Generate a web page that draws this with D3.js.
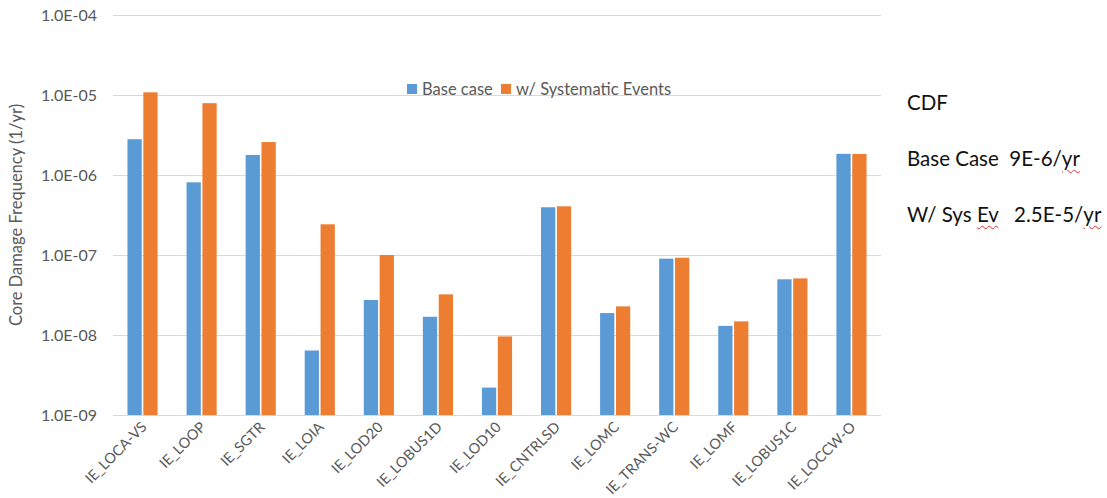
<!DOCTYPE html>
<html>
<head>
<meta charset="utf-8">
<script src="https://cdn.jsdelivr.net/npm/d3@7"></script>
<style>
  html, body { margin: 0; padding: 0; background: #fff; }
  #wrap { position: relative; width: 1107px; height: 498px; overflow: hidden; }
  svg { position: absolute; left: 0; top: 0; }
  .note { position: absolute; font-family: Lato, "Open Sans", sans-serif; font-size: 20.5px; color: #111; white-space: pre; }
  .sp { text-decoration: underline wavy #e03030; text-decoration-thickness: 1px; text-underline-offset: 3px; }
</style>
</head>
<body>
<div id="wrap"></div>
<script>
const categories = ["IE_LOCA-VS","IE_LOOP","IE_SGTR","IE_LOIA","IE_LOD20","IE_LOBUS1D","IE_LOD10","IE_CNTRLSD","IE_LOMC","IE_TRANS-WC","IE_LOMF","IE_LOBUS1C","IE_LOCCW-O"];
const seriesNames = ["Base case","w/ Systematic Events"];
const baseCase =   [2.8e-6, 8.1e-7, 1.78e-6, 6.4e-9, 2.74e-8, 1.69e-8, 2.2e-9, 3.95e-7, 1.88e-8, 9.0e-8, 1.30e-8, 4.97e-8, 1.84e-6];
const systematic = [1.08e-5, 7.9e-6, 2.58e-6, 2.42e-7, 1.0e-7, 3.22e-8, 9.6e-9, 4.06e-7, 2.28e-8, 9.25e-8, 1.48e-8, 5.1e-8, 1.83e-6];
const yTicks = [1e-9, 1e-8, 1e-7, 1e-6, 1e-5, 1e-4];
const yTickLabels = ["1.0E-09","1.0E-08","1.0E-07","1.0E-06","1.0E-05","1.0E-04"];
const yTitle = "Core Damage Frequency (1/yr)";
const colors = ["#5b9bd5", "#ed7d31"];

const W = 1107, H = 498;
const plot = {left: 113, right: 881, top: 15, bottom: 415};

const wrap = d3.select("#wrap");
const svg = wrap.append("svg").attr("width", W).attr("height", H);

const y = d3.scaleLog().domain([1e-9, 1e-4]).range([plot.bottom, plot.top]);
const x0 = d3.scaleBand().domain(categories).range([plot.left, plot.right]).paddingInner(0.49).paddingOuter(0.245);
const x1 = d3.scaleBand().domain(seriesNames).range([0, x0.bandwidth()]).paddingInner(0.1);

const font = "Lato, 'Open Sans', sans-serif";
const textColor = "#595959";

// gridlines + y labels
const yAxis = d3.axisLeft(y).tickValues(yTicks)
  .tickFormat((d, i) => yTickLabels[i])
  .tickSize(-(plot.right - plot.left)).tickPadding(16);
const gy = svg.append("g").attr("transform", `translate(${plot.left},0)`).call(yAxis);
gy.select(".domain").remove();
gy.selectAll(".tick line").attr("stroke", "#d9d9d9").attr("stroke-width", 1);
gy.selectAll(".tick text").attr("fill", textColor).attr("font-family", font).attr("font-size", 16);

// y title
svg.append("text")
  .attr("transform", `translate(22,${(plot.top + plot.bottom) / 2}) rotate(-90)`)
  .attr("text-anchor", "middle")
  .attr("fill", textColor).attr("font-family", font).attr("font-size", 16.5)
  .text(yTitle);

// bars
const data = categories.map((c, i) => ({cat: c, vals: [baseCase[i], systematic[i]]}));
const groups = svg.append("g").selectAll("g").data(data).join("g")
  .attr("transform", d => `translate(${x0(d.cat)},0)`);
groups.selectAll("rect").data(d => d.vals.map((v, j) => ({v, s: seriesNames[j], j})))
  .join("rect")
  .attr("x", d => x1(d.s))
  .attr("width", x1.bandwidth())
  .attr("y", d => y(d.v))
  .attr("height", d => y(1e-9) - y(d.v))
  .attr("fill", d => colors[d.j]);

// x axis labels
const xAxis = d3.axisBottom(x0).tickSize(0).tickPadding(0);
const gx = svg.append("g").attr("transform", `translate(0,${plot.bottom})`).call(xAxis);
gx.select(".domain").remove();
gx.selectAll(".tick text")
  .attr("fill", textColor).attr("font-family", font).attr("font-size", 14.5)
  .attr("text-anchor", "end")
  .attr("dy", 0)
  .attr("y", 0)
  .attr("transform", "translate(5,13) rotate(-45)");

// legend
const legend = svg.append("g").attr("transform", "translate(407,84)");
const legX = [0, 94];
seriesNames.forEach((s, i) => {
  const g = legend.append("g").attr("transform", `translate(${legX[i]},0)`);
  g.append("rect").attr("width", 10).attr("height", 10).attr("fill", colors[i]);
  g.append("text").attr("x", 15).attr("y", 10.5)
    .attr("fill", textColor).attr("font-family", font).attr("font-size", 16.5)
    .text(s);
});

// notes on right
const notes = [
  {top: 90, html: "CDF"},
  {top: 146, html: "Base Case  9E-6/<span class='sp'>yr</span>"},
  {top: 202, html: "W/ Sys <span class='sp'>Ev</span>   2.5E-5/<span class='sp'>yr</span>"}
];
notes.forEach(n => {
  wrap.append("div").attr("class", "note").style("left", "907px").style("top", n.top + "px").html(n.html);
});
</script>
</body>
</html>
